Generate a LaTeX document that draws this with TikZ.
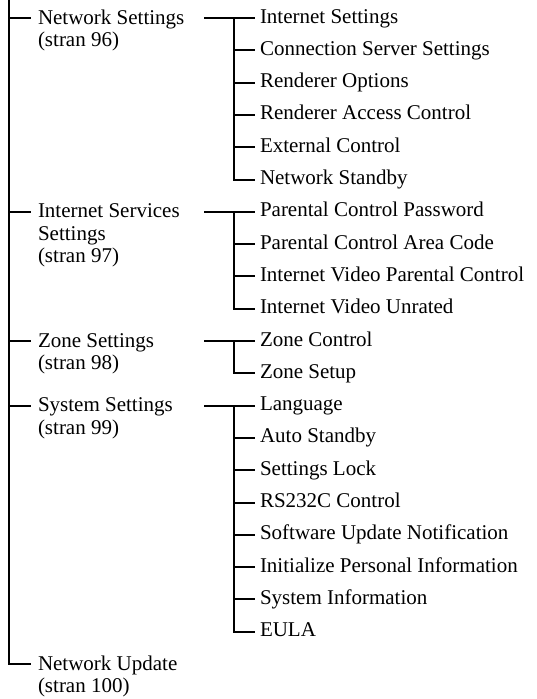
\documentclass[tikz,border=0pt]{standalone}
\usepackage{fontspec}
\setmainfont{Liberation Serif}
\usetikzlibrary{positioning}
\tikzset{head/.style={anchor=north west, inner xsep=6pt, inner ysep=0pt,
  yshift=10.75pt, align=left},
  item/.style={anchor=west, inner xsep=4pt, inner ysep=0pt,
  text height=15pt, text depth=5pt}}

\begin{document}
\begin{tikzpicture}[x=1pt, y=-1pt, line width=2pt,
  font=\fontsize{21}{22.5}\selectfont]
  \useasboundingbox (0,0) rectangle (536,699);
  % first level
  \coordinate (root) at (9,0);
  \coordinate (ns-t) at (31,18);
  \coordinate (is-t) at (31,211.8);
  \coordinate (zs-t) at (31,341);
  \coordinate (ss-t) at (31,405.6);
  \coordinate (nu-t) at (31,664);
  \node[head] (ns) at (ns-t) {\strut Network Settings\\(stran 96)};
  \node[head] (is) at (is-t) {\strut Internet Services\\Settings\\(stran 97)};
  \node[head] (zs) at (zs-t) {\strut Zone Settings\\(stran 98)};
  \node[head] (ss) at (ss-t) {\strut System Settings\\(stran 99)};
  \node[head] (nu) at (nu-t) {\strut Network Update\\(stran 100)};
  \draw (root) |- (nu-t);
  \draw (root |- ns-t) -- (ns-t);
  \draw (root |- is-t) -- (is-t);
  \draw (root |- zs-t) -- (zs-t);
  \draw (root |- ss-t) -- (ss-t);

  % network settings
  \coordinate (ns-a) at (204,18);
  \coordinate (ns-b) at (234,18);
  \node[item] (ns1) at (255,18)    {Internet Settings};
  \node[item] (ns2) at (255,50.3)  {Connection Server Settings};
  \node[item] (ns3) at (255,82.6)  {Renderer Options};
  \node[item] (ns4) at (255,114.9) {Renderer Access Control};
  \node[item] (ns5) at (255,147.2) {External Control};
  \node[item] (ns6) at (255,179.5) {Network Standby};
  \draw (ns-a) -- (ns-b) |- (ns6);
  \draw (ns-b) -- (ns1);
  \draw (ns-b |- ns2) -- (ns2);
  \draw (ns-b |- ns3) -- (ns3);
  \draw (ns-b |- ns4) -- (ns4);
  \draw (ns-b |- ns5) -- (ns5);

  % internet services settings
  \coordinate (is-a) at (204,211.8);
  \coordinate (is-b) at (234,211.8);
  \node[item] (is1) at (255,211.8) {Parental Control Password};
  \node[item] (is2) at (255,244.1) {Parental Control Area Code};
  \node[item] (is3) at (255,276.4) {Internet Video Parental Control};
  \node[item] (is4) at (255,308.7) {Internet Video Unrated};
  \draw (is-a) -- (is-b) |- (is4);
  \draw (is-b) -- (is1);
  \draw (is-b |- is2) -- (is2);
  \draw (is-b |- is3) -- (is3);

  % zone settings
  \coordinate (zs-a) at (204,341);
  \coordinate (zs-b) at (234,341);
  \node[item] (zs1) at (255,341)   {Zone Control};
  \node[item] (zs2) at (255,373.3) {Zone Setup};
  \draw (zs-a) -- (zs-b) |- (zs2);
  \draw (zs-b) -- (zs1);

  % system settings
  \coordinate (ss-a) at (204,405.6);
  \coordinate (ss-b) at (234,405.6);
  \node[item] (ss1) at (255,405.6) {Language};
  \node[item] (ss2) at (255,437.9) {Auto Standby};
  \node[item] (ss3) at (255,470.2) {Settings Lock};
  \node[item] (ss4) at (255,502.5) {RS232C Control};
  \node[item] (ss5) at (255,534.8) {Software Update Notification};
  \node[item] (ss6) at (255,567.1) {Initialize Personal Information};
  \node[item] (ss7) at (255,599.4) {System Information};
  \node[item] (ss8) at (255,631.7) {EULA};
  \draw (ss-a) -- (ss-b) |- (ss8);
  \draw (ss-b) -- (ss1);
  \draw (ss-b |- ss2) -- (ss2);
  \draw (ss-b |- ss3) -- (ss3);
  \draw (ss-b |- ss4) -- (ss4);
  \draw (ss-b |- ss5) -- (ss5);
  \draw (ss-b |- ss6) -- (ss6);
  \draw (ss-b |- ss7) -- (ss7);
\end{tikzpicture}
\end{document}
